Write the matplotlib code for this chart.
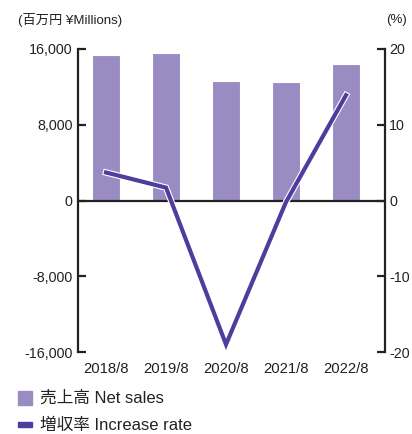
import matplotlib.pyplot as plt
import matplotlib.patheffects as pe

plt.rcParams['font.family'] = ['Liberation Sans', 'Noto Sans CJK JP', 'DejaVu Sans']

years = ['2018/8', '2019/8', '2020/8', '2021/8', '2022/8']
net_sales = [15400, 15600, 12600, 12550, 14400]      # 百万円
increase_rate = [3.7, 1.7, -19.0, -0.2, 13.9]        # %

bar_color = '#998cc3'
line_color = '#4e3d9c'

fig = plt.figure(figsize=(4.12, 4.34), dpi=100)
ax = fig.add_axes([78 / 412, 1 - 352 / 434, 307 / 412, 303 / 434])
ax2 = ax.twinx()

x = range(len(years))
ax.bar(x, net_sales, width=0.48, color=bar_color, edgecolor='white', linewidth=0.8, zorder=2)
ax.axhline(0, color='#222222', lw=1.6, zorder=3)

ax2.plot(x, increase_rate, color=line_color, lw=3.0, solid_joinstyle='miter',
         path_effects=[pe.Stroke(linewidth=4.6, foreground='white'), pe.Normal()], zorder=4)

ax.set_xlim(-0.467, 4.65)
ax.set_ylim(-16000, 16000)
ax2.set_ylim(-20, 20)

ax.set_yticks([-16000, -8000, 0, 8000, 16000])
ax.set_yticklabels(['-16,000', '-8,000', '0', '8,000', '16,000'])
ax2.set_yticks([-20, -10, 0, 10, 20])
ax2.set_yticklabels(['-20', '-10', '0', '10', '20'])
ax.set_xticks(list(x))
ax.set_xticklabels(years)

for a in (ax, ax2):
    a.spines['top'].set_visible(False)
    a.spines['bottom'].set_visible(False)
    a.spines['left'].set_linewidth(1.6)
    a.spines['right'].set_linewidth(1.6)
    a.spines['left'].set_color('#222222')
    a.spines['right'].set_color('#222222')
ax.spines['right'].set_visible(False)
ax2.spines['left'].set_visible(False)

ax.tick_params(axis='y', direction='in', length=6, width=1.6, color='#222222',
               labelsize=10.3, pad=4, labelcolor='#222222')
ax2.tick_params(axis='y', direction='in', length=6, width=1.6, color='#222222',
                labelsize=10.3, pad=3, labelcolor='#222222')
ax.tick_params(axis='x', length=0, labelsize=10.7, pad=7, labelcolor='#222222')

fig.text(18 / 412, 1 - 20 / 434, '(百万円 ¥Millions)', fontsize=9.5, va='center', color='#222222')
fig.text(407 / 412, 1 - 20 / 434, '(%)', fontsize=9.5, va='center', ha='right', color='#222222')

# legend
fig.patches.append(plt.Rectangle((18 / 412, 1 - 405 / 434), 14 / 412, 14 / 434,
                                 transform=fig.transFigure, color=bar_color))
fig.text(40 / 412, 1 - 398 / 434, '売上高 Net sales', fontsize=12, va='center', color='#222222')
fig.patches.append(plt.Rectangle((18 / 412, 1 - 427 / 434), 14 / 412, 5 / 434,
                                 transform=fig.transFigure, color=line_color))
fig.text(40 / 412, 1 - 425 / 434, '増収率 Increase rate', fontsize=12, va='center', color='#222222')

fig.savefig('out.png', dpi=100)
